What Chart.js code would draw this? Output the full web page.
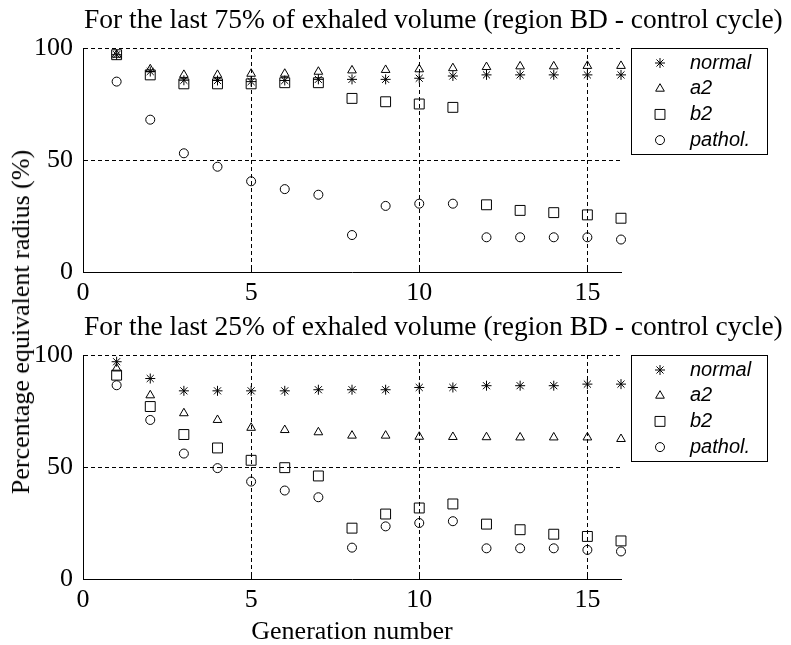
<!DOCTYPE html>
<html><head><meta charset="utf-8">
<script src="https://cdn.jsdelivr.net/npm/chart.js@4.4.1/dist/chart.umd.min.js"></script>
<style>
html,body{margin:0;padding:0;background:#fff;width:791px;height:645px;overflow:hidden;}
#c1{position:absolute;left:0;top:0;width:791px;height:310px;}
#c2{position:absolute;left:0;top:310px;width:791px;height:335px;}
#ytitle{position:absolute;left:21px;top:322px;transform:translate(-50%,-50%) rotate(-90deg);font:26px "Liberation Serif","Times New Roman",serif;white-space:nowrap;color:#000;}
</style></head><body>
<canvas id="c1" width="791" height="310"></canvas>
<canvas id="c2" width="791" height="335"></canvas>
<div id="ytitle">Percentage equivalent radius (%)</div>
<script>
// ---- data ----
const generations = [1,2,3,4,5,6,7,8,9,10,11,12,13,14,15,16];
const seriesNames = ['normal','a2','b2','pathol.'];
const xTicks = [0,5,10,15];
const yTicks = [0,50,100];
const title75 = 'For the last 75% of exhaled volume (region BD - control cycle)';
const title25 = 'For the last 25% of exhaled volume (region BD - control cycle)';
const xTitle = 'Generation number';

// last 75% of exhaled volume
const normal75 = [97, 89.5, 85.6, 85.5, 85, 85.5, 86, 86, 86, 86.5, 87.5, 88, 88, 88, 88, 88];
const a2_75    = [97, 90.5, 88, 88, 88.5, 88.5, 89.4, 90, 90.2, 90.5, 91, 91.5, 91.8, 91.8, 92, 92];
const b2_75    = [97, 88, 84, 84, 84, 84.5, 84.5, 77.5, 76, 75, 73.5, 30, 27.5, 26.5, 25.5, 24];
const pathol75 = [85, 68, 53, 47, 40.5, 37, 34.5, 16.5, 29.5, 30.5, 30.5, 15.5, 15.5, 15.5, 15.5, 14.5];

// last 25% of exhaled volume
const normal25 = [97, 89.5, 84, 84, 84, 84, 84.5, 84.5, 84.5, 85.5, 85.5, 86.3, 86.3, 86.3, 87, 87];
const a2_25    = [94, 82, 74, 71, 67.5, 66.5, 65.5, 64, 64, 63.5, 63.4, 63.3, 63.2, 63.2, 63.2, 62.5];
const b2_25    = [91, 77, 64.5, 58.5, 53, 49.7, 46, 22.7, 29, 31.7, 33.5, 24.5, 22, 20, 19, 17];
const pathol25 = [86.5, 71, 56, 49.5, 43.5, 39.5, 36.5, 14, 23.5, 25, 25.8, 13.7, 13.7, 13.7, 13, 12.3];

// ---- styles ----
const markerStyles = [
  {pointStyle:'star', radius:5},
  {pointStyle:'triangle', radius:5},
  {pointStyle:'rect', radius:7},
  {pointStyle:'circle', radius:4.5}
];
const SERIF = '"Liberation Serif","Times New Roman",serif';

function drawMarker(ctx, st, x, y){
  if (Chart.helpers && Chart.helpers.drawPoint) {
    Chart.helpers.drawPoint(ctx, {pointStyle: st.pointStyle, radius: st.radius, rotation: 0, borderWidth: 1}, x, y);
  }
}

const legendPlugin = {
  id: 'boxLegend',
  afterDraw(chart){
    const ctx = chart.ctx, a = chart.chartArea;
    const x0 = a.right + 10, y0 = a.top, w = 136, h = 106;
    ctx.save();
    ctx.strokeStyle = '#000'; ctx.lineWidth = 1;
    ctx.strokeRect(Math.round(x0)+0.5, Math.round(y0)+0.5, w, h);
    ctx.font = 'italic 20px "Liberation Sans",Arial,sans-serif';
    ctx.textBaseline = 'middle'; ctx.textAlign = 'left';
    seriesNames.forEach((name, i) => {
      const yy = y0 + 15 + i * 25.7;
      ctx.fillStyle = 'rgba(0,0,0,0)'; ctx.strokeStyle = '#000'; ctx.lineWidth = 1;
      drawMarker(ctx, markerStyles[i], x0 + 29, yy);
      ctx.fillStyle = '#000';
      ctx.fillText(name, x0 + 59, yy);
    });
    ctx.restore();
  }
};

const extrasPlugin = {
  id: 'extras',
  afterDraw(chart){
    const ctx = chart.ctx, a = chart.chartArea;
    const o = chart.options.plugins.extras;
    ctx.save();
    ctx.fillStyle = '#000';
    ctx.font = '27.5px ' + SERIF;
    ctx.textAlign = 'left'; ctx.textBaseline = 'alphabetic';
    ctx.fillText(o.title, 84, a.top - 20);
    // inward tick marks
    ctx.strokeStyle = '#000'; ctx.lineWidth = 1;
    ctx.beginPath();
    const xs = chart.scales.x, ys = chart.scales.y;
    xTicks.forEach(v => { if (v === 0) return; const px = Math.round(xs.getPixelForValue(v)) + 0.5; ctx.moveTo(px, a.bottom); ctx.lineTo(px, a.bottom - 5); });
    yTicks.forEach(v => { if (v === 0) return; const py = Math.round(ys.getPixelForValue(v)) + 0.5; ctx.moveTo(a.left, py); ctx.lineTo(a.left + 5, py); });
    ctx.stroke();
    ctx.restore();
  }
};

function makeChart(id, title, data, padTop, canvasH, showXTitle){
  const sets = data.map((vals, i) => ({
    label: seriesNames[i],
    data: generations.map((g, k) => ({x: g, y: vals[k]})),
    showLine: false,
    clip: false,
    pointStyle: markerStyles[i].pointStyle,
    pointRadius: markerStyles[i].radius,
    pointHoverRadius: markerStyles[i].radius,
    pointBorderWidth: 1,
    borderColor: '#000',
    backgroundColor: 'rgba(0,0,0,0)',
    order: 4 - i
  }));
  return new Chart(document.getElementById(id), {
    type: 'scatter',
    data: {datasets: sets},
    plugins: [legendPlugin, extrasPlugin],
    options: {
      responsive: false,
      animation: false,
      events: [],
      layout: {padding: {top: padTop, left: 0, right: 170, bottom: 0}},
      plugins: {legend: {display: false}, title: {display: false}, tooltip: {enabled: false}, extras: {title: title}},
      scales: {
        x: {
          type: 'linear', min: 0, max: 16,
          afterBuildTicks: s => { s.ticks = xTicks.map(v => ({value: v})); },
          afterFit: s => { s.height = canvasH - 224 - padTop; },
          ticks: {color: '#000', font: {family: SERIF, size: 26}, padding: 6, maxRotation: 0, autoSkip: false},
          grid: {color: c => (c.tick && c.tick.value === 0) ? 'rgba(0,0,0,0)' : '#000', lineWidth: 1, drawTicks: false},
          border: {display: true, color: '#000', width: 1, dash: [4,3]},
          title: {display: showXTitle, text: xTitle, color: '#000', font: {family: SERIF, size: 26}, padding: {top: 0, bottom: -3}}
        },
        y: {
          type: 'linear', min: 0, max: 100,
          afterBuildTicks: s => { s.ticks = yTicks.map(v => ({value: v})); },
          afterFit: s => { s.width = 83; },
          ticks: {color: '#000', font: {family: SERIF, size: 26}, padding: 10},
          grid: {color: c => (c.tick && c.tick.value === 0) ? 'rgba(0,0,0,0)' : '#000', lineWidth: 1, drawTicks: false},
          border: {display: true, color: '#000', width: 1, dash: [4,3]}
        }
      }
    }
  });
}

makeChart('c1', title75, [normal75, a2_75, b2_75, pathol75], 48, 310, false);
makeChart('c2', title25, [normal25, a2_25, b2_25, pathol25], 45, 335, true);
</script>
</body></html>
